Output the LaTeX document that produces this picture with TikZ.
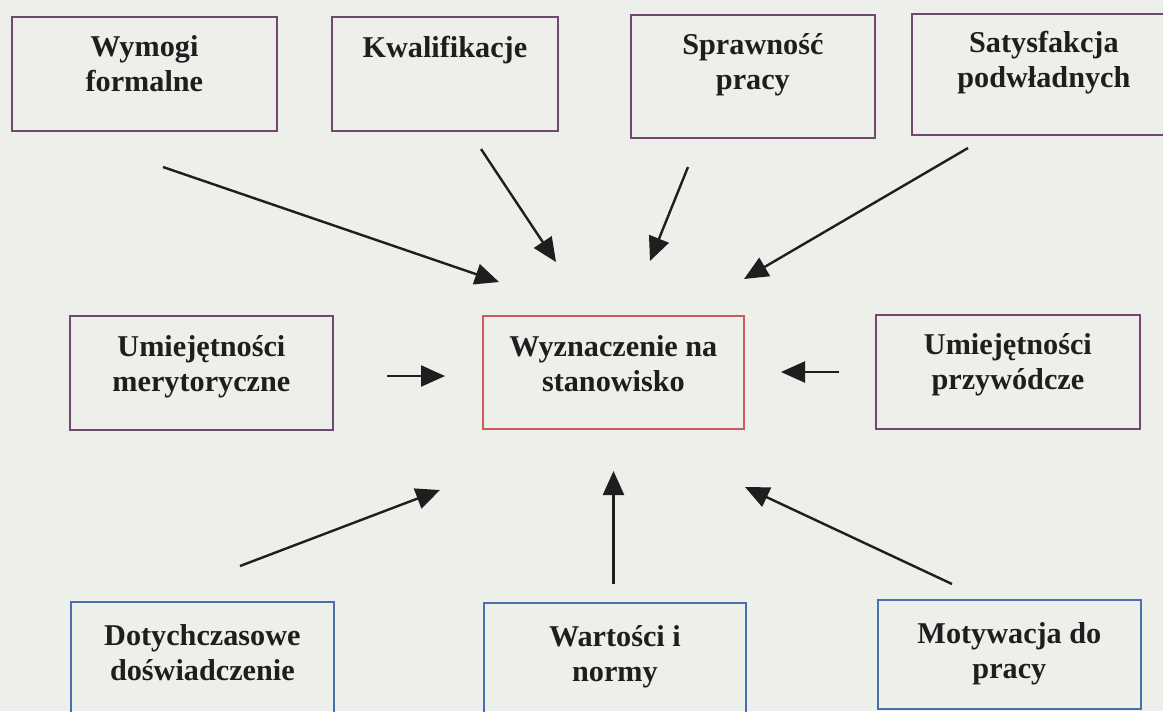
\documentclass[tikz,border=0pt]{standalone}
\usepackage{fontspec}
\setmainfont{Liberation Serif}
\usetikzlibrary{arrows.meta, positioning}
\definecolor{ramkafiolet}{RGB}{112,72,112}
\definecolor{ramkaczerw}{RGB}{205,90,90}
\definecolor{ramkaniebieska}{RGB}{75,110,175}
\definecolor{tlo}{RGB}{237,239,235}
\definecolor{tusz}{RGB}{30,30,30}

\begin{document}
\begin{tikzpicture}[
    ramka/.style={draw=ramkafiolet, line width=.036cm, anchor=north west, inner sep=0},
    napis/.style={align=center, inner sep=0, text=tusz, font=\bfseries\fontsize{17.2}{20}\selectfont},
    strzalka/.style={-{Triangle[length=.48cm,width=.42cm]}, line width=.048cm, draw=tusz, fill=tusz}]
    % tło strony
    \useasboundingbox (0,0) rectangle (23.26,-14.22);
    \fill[tlo] (0,0) rectangle (23.26,-14.22);

    % górny rząd
    \node[ramka, minimum width=5.30cm, minimum height=2.28cm] (wymogi) at (0.22,-0.32) {};
    \node[ramka, minimum width=4.52cm, minimum height=2.28cm] (kwalifikacje) at (6.62,-0.32) {};
    \node[ramka, minimum width=4.88cm, minimum height=2.46cm] (sprawnosc) at (12.60,-0.28) {};
    \node[ramka, minimum width=5.28cm, minimum height=2.42cm] (satysfakcja) at (18.22,-0.26) {};

    \node[napis, below=.38cm of wymogi.north] (wymogi-t) {Wymogi\\formalne};
    \node[napis, below=.40cm of kwalifikacje.north] (kwalifikacje-t) {Kwalifikacje};
    \node[napis, below=.38cm of sprawnosc.north] (sprawnosc-t) {Sprawność\\pracy};
    \node[napis, below=.36cm of satysfakcja.north] (satysfakcja-t) {Satysfakcja\\podwładnych};

    % środkowy rząd
    \node[ramka, minimum width=5.26cm, minimum height=2.28cm] (merytoryczne) at (1.38,-6.30) {};
    \node[ramka, draw=ramkaczerw, minimum width=5.22cm, minimum height=2.26cm] (cel) at (9.64,-6.30) {};
    \node[ramka, minimum width=5.28cm, minimum height=2.28cm] (przywodcze) at (17.50,-6.28) {};

    \node[napis, below=.40cm of merytoryczne.north] (merytoryczne-t) {Umiejętności\\merytoryczne};
    \node[napis, below=.40cm of cel.north] (cel-t) {Wyznaczenie na\\stanowisko};
    \node[napis, below=.38cm of przywodcze.north] (przywodcze-t) {Umiejętności\\przywódcze};

    % dolny rząd
    \node[ramka, draw=ramkaniebieska, minimum width=5.26cm, minimum height=2.30cm] (doswiadczenie) at (1.40,-12.02) {};
    \node[ramka, draw=ramkaniebieska, minimum width=5.24cm, minimum height=2.30cm] (wartosci) at (9.66,-12.04) {};
    \node[ramka, draw=ramkaniebieska, minimum width=5.26cm, minimum height=2.18cm] (motywacja) at (17.54,-11.98) {};

    \node[napis, below=.46cm of doswiadczenie.north] (doswiadczenie-t) {Dotychczasowe\\doświadczenie};
    \node[napis, below=.46cm of wartosci.north] (wartosci-t) {Wartości i\\normy};
    \node[napis, below=.46cm of motywacja.north] (motywacja-t) {Motywacja do\\pracy};

    % końce strzałek
    \coordinate (wymogi-s) at (3.26,-3.34);
    \coordinate (wymogi-k) at (9.98,-5.64);
    \coordinate (kwalifikacje-s) at (9.62,-2.98);
    \coordinate (kwalifikacje-k) at (11.12,-5.24);
    \coordinate (sprawnosc-s) at (13.76,-3.34);
    \coordinate (sprawnosc-k) at (13.00,-5.22);
    \coordinate (satysfakcja-s) at (19.36,-2.96);
    \coordinate (satysfakcja-k) at (14.88,-5.58);
    \coordinate (merytoryczne-s) at (7.74,-7.52);
    \coordinate (merytoryczne-k) at (8.90,-7.52);
    \coordinate (przywodcze-s) at (16.78,-7.44);
    \coordinate (przywodcze-k) at (15.62,-7.44);
    \coordinate (doswiadczenie-s) at (4.80,-11.32);
    \coordinate (doswiadczenie-k) at (8.80,-9.80);
    \coordinate (wartosci-s) at (12.27,-11.68);
    \coordinate (wartosci-k) at (12.27,-9.42);
    \coordinate (motywacja-s) at (19.04,-11.68);
    \coordinate (motywacja-k) at (14.90,-9.74);

    % strzałki do wyznaczenia na stanowisko
    \draw[strzalka] (wymogi-s) -- (wymogi-k);
    \draw[strzalka] (kwalifikacje-s) -- (kwalifikacje-k);
    \draw[strzalka] (sprawnosc-s) -- (sprawnosc-k);
    \draw[strzalka] (satysfakcja-s) -- (satysfakcja-k);
    \draw[strzalka] (merytoryczne-s) -- (merytoryczne-k);
    \draw[strzalka] (przywodcze-s) -- (przywodcze-k);
    \draw[strzalka] (doswiadczenie-s) -- (doswiadczenie-k);
    \draw[strzalka] (wartosci-s) -- (wartosci-k);
    \draw[strzalka] (motywacja-s) -- (motywacja-k);
\end{tikzpicture}
\end{document}
